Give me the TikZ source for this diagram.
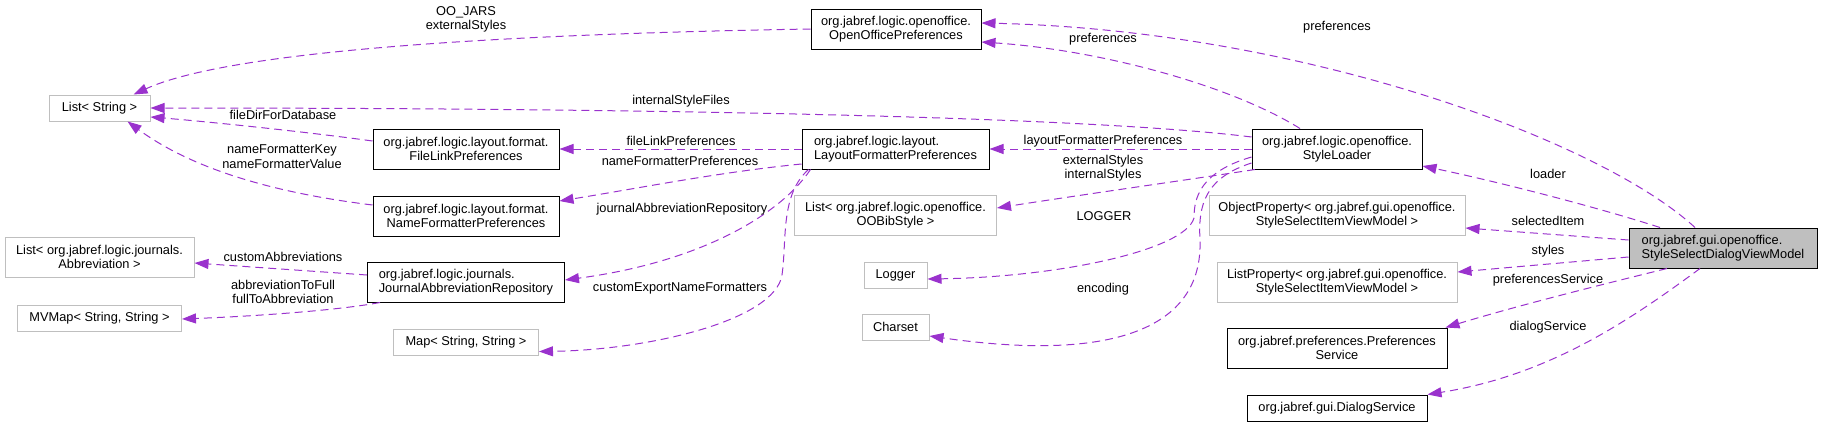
\documentclass[tikz,border=0pt]{standalone}
\usepackage{fontspec}
\setmainfont{Liberation Sans}
\usetikzlibrary{arrows.meta, positioning}

\definecolor{orchid}{HTML}{9A32CD}
\definecolor{boxgrey}{HTML}{BFBFBF}

\begin{document}
\begin{tikzpicture}[
    x=1pt, y=-1pt,
    every node/.style={font=\fontsize{12.8}{14.5}\selectfont, inner sep=0pt},
    cls/.style={rectangle, draw=black, line width=1pt, minimum height=40pt, align=center},
    ext/.style={cls, draw=boxgrey},
    oneline/.style={minimum height=26pt},
    uses/.style={-{Triangle[length=14pt, width=10pt]}, draw=orchid, line width=1pt, dash pattern=on 8pt off 5pt},
    lbl/.style={align=center}
]
\useasboundingbox (0,0) rectangle (1823,423);

\node[ext, oneline, minimum width=101pt] (listStr) at (99.5,108) {List< String >};
\node[ext, minimum width=189pt] (abbrevList) at (99.5,257) {List< org.jabref.logic.journals.\\Abbreviation >};
\node[ext, oneline, minimum width=164pt, below=27pt of abbrevList] (mvMap) {MVMap< String, String >};

\node[cls, minimum width=186pt] (fileLink) at (466,149) {org.jabref.logic.layout.format.\\FileLinkPreferences};
\node[cls, minimum width=186pt, below=26pt of fileLink] (nameFmt) {org.jabref.logic.layout.format.\\NameFormatterPreferences};
\node[cls, minimum width=197pt, align=left, below=25pt of nameFmt] (jar) {org.jabref.logic.journals.\\JournalAbbreviationRepository};
\node[ext, oneline, minimum width=145pt, below=26pt of jar] (strMap) {Map< String, String >};

\node[cls, minimum width=170pt] (ooPrefs) at (896,29) {org.jabref.logic.openoffice.\\OpenOfficePreferences};
\node[cls, minimum width=187pt, align=left] (layoutFmt) at (895.5,149) {org.jabref.logic.layout.\\LayoutFormatterPreferences};
\node[ext, minimum width=202pt, below=25pt of layoutFmt] (ooBibList) {List< org.jabref.logic.openoffice.\\OOBibStyle >};
\node[ext, oneline, minimum width=63pt, below=26pt of ooBibList] (logger) {Logger};
\node[ext, oneline, minimum width=67pt, below=25pt of logger] (charset) {Charset};

\node[cls, minimum width=170pt] (styleLoader) at (1337,149) {org.jabref.logic.openoffice.\\StyleLoader};
\node[ext, minimum width=256pt, below=25pt of styleLoader] (objProp) {ObjectProperty< org.jabref.gui.openoffice.\\StyleSelectItemViewModel >};
\node[ext, minimum width=240pt, below=26pt of objProp] (listProp) {ListProperty< org.jabref.gui.openoffice.\\StyleSelectItemViewModel >};
\node[cls, minimum width=220pt, below=25pt of listProp] (prefService) {org.jabref.preferences.Preferences\\Service};
\node[cls, oneline, minimum width=180pt, below=26pt of prefService] (dialogService) {org.jabref.gui.DialogService};

\node[cls, fill=boxgrey, minimum width=188pt, align=left] (viewModel) at (1723,248) {org.jabref.gui.openoffice.\\StyleSelectDialogViewModel};

\draw[uses] (ooPrefs.west) .. controls (450,35) and (220,55) .. ([xshift=34pt]listStr.north);
\draw[uses] ([yshift=12pt]styleLoader.west) .. controls (1100,118) and (700,108) .. (listStr.east);
\draw[uses] ([yshift=8pt]fileLink.west) .. controls (300,131) and (200,121) .. ([yshift=-9pt]listStr.east);
\draw[uses] ([yshift=11pt]nameFmt.west) .. controls (250,190) and (180,160) .. ([xshift=28pt]listStr.south);
\draw[uses] (layoutFmt.west) -- (fileLink.east);
\draw[uses] ([yshift=-15pt]layoutFmt.west) .. controls (720,172) and (640,188) .. ([yshift=15pt]nameFmt.east);
\draw[uses] ([xshift=-85pt]layoutFmt.south) .. controls (780,215) and (700,262) .. ([yshift=2pt]jar.east);
\draw[uses] ([xshift=-87pt]layoutFmt.south) .. controls (780,195) and (787,240) .. (782,275) .. controls (775,320) and (650,350) .. ([yshift=-9.5pt]strMap.east);
\draw[uses] ([xshift=-37pt]styleLoader.north) .. controls (1230,85) and (1100,50) .. ([yshift=-13pt]ooPrefs.east);
\draw[uses] ([xshift=-28pt]viewModel.north) .. controls (1600,140) and (1300,30) .. ([yshift=6pt]ooPrefs.east);
\draw[uses] (styleLoader.west) -- (layoutFmt.east);
\draw[uses] ([xshift=-82pt]styleLoader.south) .. controls (1200,178) and (1080,195) .. ([yshift=7pt]ooBibList.east);
\draw[uses] ([yshift=-8pt]styleLoader.west) .. controls (1200,172) and (1194,198) .. (1194,218) .. controls (1185,250) and (1060,277) .. ([yshift=-4pt]logger.east);
\draw[uses] ([yshift=-14pt]styleLoader.west) .. controls (1205,178) and (1198,205) .. (1200,240) .. controls (1203,330) and (1110,362) .. ([yshift=-9pt]charset.east);
\draw[uses] ([xshift=-63pt]viewModel.north) .. controls (1590,205) and (1490,180) .. ([yshift=-17pt]styleLoader.east);
\draw[uses] ([yshift=8pt]viewModel.west) -- ([yshift=-13pt]objProp.east);
\draw[uses] ([yshift=-9pt]viewModel.west) -- ([yshift=10pt]listProp.east);
\draw[uses] ([xshift=-56pt]viewModel.south) .. controls (1600,285) and (1520,305) .. ([xshift=-2pt]prefService.north east);
\draw[uses] ([xshift=-23pt]viewModel.south) .. controls (1630,320) and (1550,375) .. (dialogService.north east);
\draw[uses] ([yshift=7pt]jar.west) -- ([yshift=-6pt]abbrevList.east);
\draw[uses] ([xshift=-86pt]jar.south) .. controls (340,310) and (260,316) .. ([yshift=-1pt]mvMap.east);

\node[lbl] (lOOJars) at (466,19.5) {OO\_JARS\\externalStyles};
\node[lbl] (lIntFiles) at (681,101) {internalStyleFiles};
\node[lbl] (lFileDir) at (283,115) {fileDirForDatabase};
\node[lbl] (lNameKey) at (282,156.5) {nameFormatterKey\\nameFormatterValue};
\node[lbl] (lFileLink) at (681,141) {fileLinkPreferences};
\node[lbl] (lNameFmt) at (680,161) {nameFormatterPreferences};
\node[lbl] (lJournal) at (682,209) {journalAbbreviationRepository};
\node[lbl] (lExport) at (680,288) {customExportNameFormatters};
\node[lbl] (lPrefs) at (1103,39) {preferences};
\node[lbl] (lPrefsVm) at (1337,27) {preferences};
\node[lbl] (lLayout) at (1103,141) {layoutFormatterPreferences};
\node[lbl] (lStyles) at (1103,168) {externalStyles\\internalStyles};
\node[lbl] (lLogger) at (1104,216) {LOGGER};
\node[lbl] (lEncoding) at (1103,289) {encoding};
\node[lbl] (lLoader) at (1548,174) {loader};
\node[lbl] (lSelected) at (1548,221) {selectedItem};
\node[lbl] (lStylesVm) at (1548,251) {styles};
\node[lbl] (lPrefService) at (1548,280) {preferencesService};
\node[lbl] (lDialog) at (1548,327) {dialogService};
\node[lbl] (lCustomAbbr) at (283,257) {customAbbreviations};
\node[lbl] (lAbbrToFull) at (283,292) {abbreviationToFull\\fullToAbbreviation};
\end{tikzpicture}
\end{document}
